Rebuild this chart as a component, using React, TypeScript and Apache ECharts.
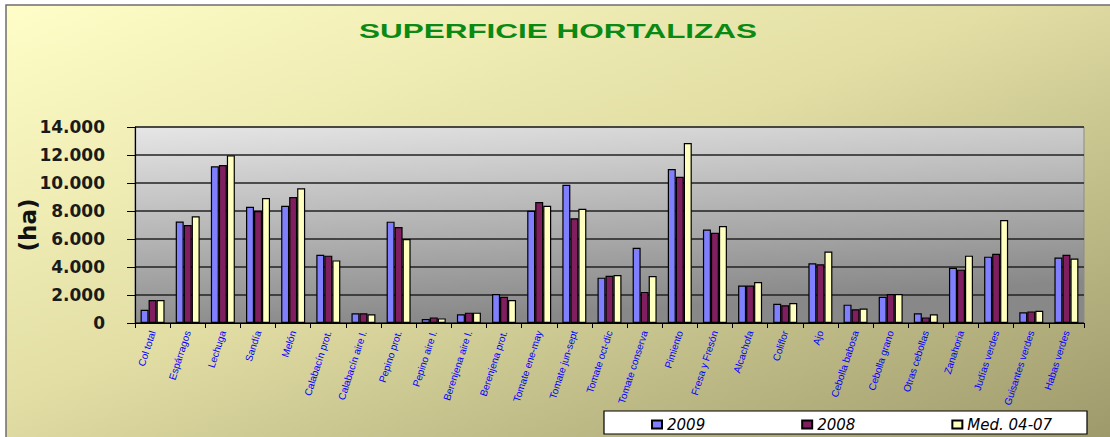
import React, { useEffect, useRef } from "react";
import * as echarts from "echarts";

const categories = [
  "Col total", "Espárragos", "Lechuga", "Sandía", "Melón", "Calabacín prot.",
  "Calabacín aire l.", "Pepino prot.", "Pepino aire l.", "Berenjena aire l.",
  "Berenjena prot.", "Tomate ene-may", "Tomate jun-sept", "Tomate oct-dic",
  "Tomate conserva", "Pimiento", "Fresa y Fresón", "Alcachofa", "Coliflor", "Ajo",
  "Cebolla babosa", "Cebolla grano", "Otras cebollas", "Zanahoria", "Judías verdes",
  "Guisantes verdes", "Habas verdes",
];

const s2009 = [950, 7250, 11200, 8300, 8380, 4880, 690, 7240, 290, 620, 2070, 8020, 9880, 3240, 5380, 11000, 6670, 2670, 1380, 4260, 1310, 1880, 690, 3950, 4740, 760, 4670];
const s2008 = [1640, 7000, 11280, 8000, 9000, 4810, 690, 6850, 400, 740, 1880, 8640, 7480, 3380, 2220, 10450, 6450, 2670, 1260, 4190, 980, 2070, 400, 3810, 4950, 830, 4880];
const sMed = [1640, 7620, 11970, 8920, 9620, 4470, 620, 6000, 330, 740, 1640, 8380, 8160, 3430, 3350, 12850, 6920, 2930, 1430, 5100, 1030, 2070, 620, 4810, 7350, 880, 4600];

const seriesNames = ["2009", "2008", "Med. 04-07"];
const seriesColors = ["#8080ff", "#7f1f5f", "#ffffc0"];

const fmt = (v: number) => String(v).replace(/\B(?=(\d{3})+(?!\d))/g, ".");

export default function App() {
  const ref = useRef<HTMLDivElement>(null);
  useEffect(() => {
    document.body.style.margin = "0";
    const chart = echarts.init(ref.current!, null, { renderer: "svg" });
    const mk = (name: string, data: number[], color: string) => ({
      name,
      type: "bar",
      data,
      barWidth: 8,
      barGap: "0%",
      itemStyle: { color, borderColor: "#000", borderWidth: 1.2 },
    });
    chart.setOption({
      animation: false,
      backgroundColor: "#ffffff",
      graphic: [
        {
          type: "rect",
          z: -10,
          shape: { x: 6, y: 5, width: 1110, height: 440 },
          style: {
            fill: new echarts.graphic.LinearGradient(0, 0, 1, 1, [
              { offset: 0, color: "#fffec8" },
              { offset: 0.45, color: "#e2dea4" },
              { offset: 1, color: "#9c986a" },
            ]),
            stroke: "#6e6e6e",
            lineWidth: 1.5,
          },
        },
        {
          type: "rect",
          z: 5,
          shape: { x: 604, y: 411, width: 483, height: 23 },
          style: { fill: "#ffffff", stroke: "#000", lineWidth: 1.2 },
        },
        {
          type: "text",
          z: 10,
          x: 558,
          y: 31,
          scaleX: 1.5,
          style: {
            text: "SUPERFICIE HORTALIZAS",
            fill: "#0a8a12",
            font: "bold 21px 'Liberation Sans', Arial, sans-serif",
            align: "center",
            verticalAlign: "middle",
          },
        },
      ],
      legend: {
        data: seriesNames,
        left: 646,
        top: 412,
        z: 10,
        itemWidth: 10,
        itemHeight: 8,
        itemGap: 96,
        icon: "rect",
        textStyle: {
          fontFamily: "DejaVu Sans",
          fontStyle: "italic",
          fontSize: 15,
          color: "#000",
        },
      },
      grid: {
        left: 135,
        right: 26,
        top: 127,
        bottom: 114,
        show: true,
        borderColor: "#8a8a8a",
        borderWidth: 1,
        backgroundColor: new echarts.graphic.LinearGradient(0, 0, 0.3, 1, [
          { offset: 0, color: "#e6e6e6" },
          { offset: 1, color: "#888888" },
        ]),
      },
      xAxis: {
        type: "category",
        data: categories,
        axisLine: { lineStyle: { color: "#000", width: 1.2 } },
        axisTick: { show: true, length: 5, lineStyle: { color: "#000" } },
        axisLabel: {
          interval: 0,
          rotate: 72,
          margin: 8,
          fontSize: 10,
          color: "#0000ff",
          fontFamily: "'Liberation Sans', Arial, sans-serif",
        },
      },
      yAxis: {
        type: "value",
        min: 0,
        max: 14000,
        interval: 2000,
        name: "(ha)",
        nameLocation: "middle",
        nameRotate: 90,
        nameGap: 96,
        nameMoveOverlap: false,
        nameTextStyle: {
          fontFamily: "DejaVu Sans",
          fontWeight: "bold",
          fontSize: 23,
          color: "#111",
        },
        axisLine: { show: true, lineStyle: { color: "#000", width: 1.2 } },
        axisTick: { show: true, length: 8, lineStyle: { color: "#000" } },
        axisLabel: {
          margin: 30,
          formatter: (v: number) => fmt(v),
          fontFamily: "DejaVu Sans",
          fontWeight: "bold",
          fontSize: 17,
          color: "#1a1a1a",
        },
        splitLine: { show: true, lineStyle: { color: "#222", width: 1.5 } },
      },
      series: [
        mk(seriesNames[0], s2009, seriesColors[0]),
        mk(seriesNames[1], s2008, seriesColors[1]),
        mk(seriesNames[2], sMed, seriesColors[2]),
      ],
    });
    return () => chart.dispose();
  }, []);
  return <div ref={ref} style={{ width: 1110, height: 437 }} />;
}
